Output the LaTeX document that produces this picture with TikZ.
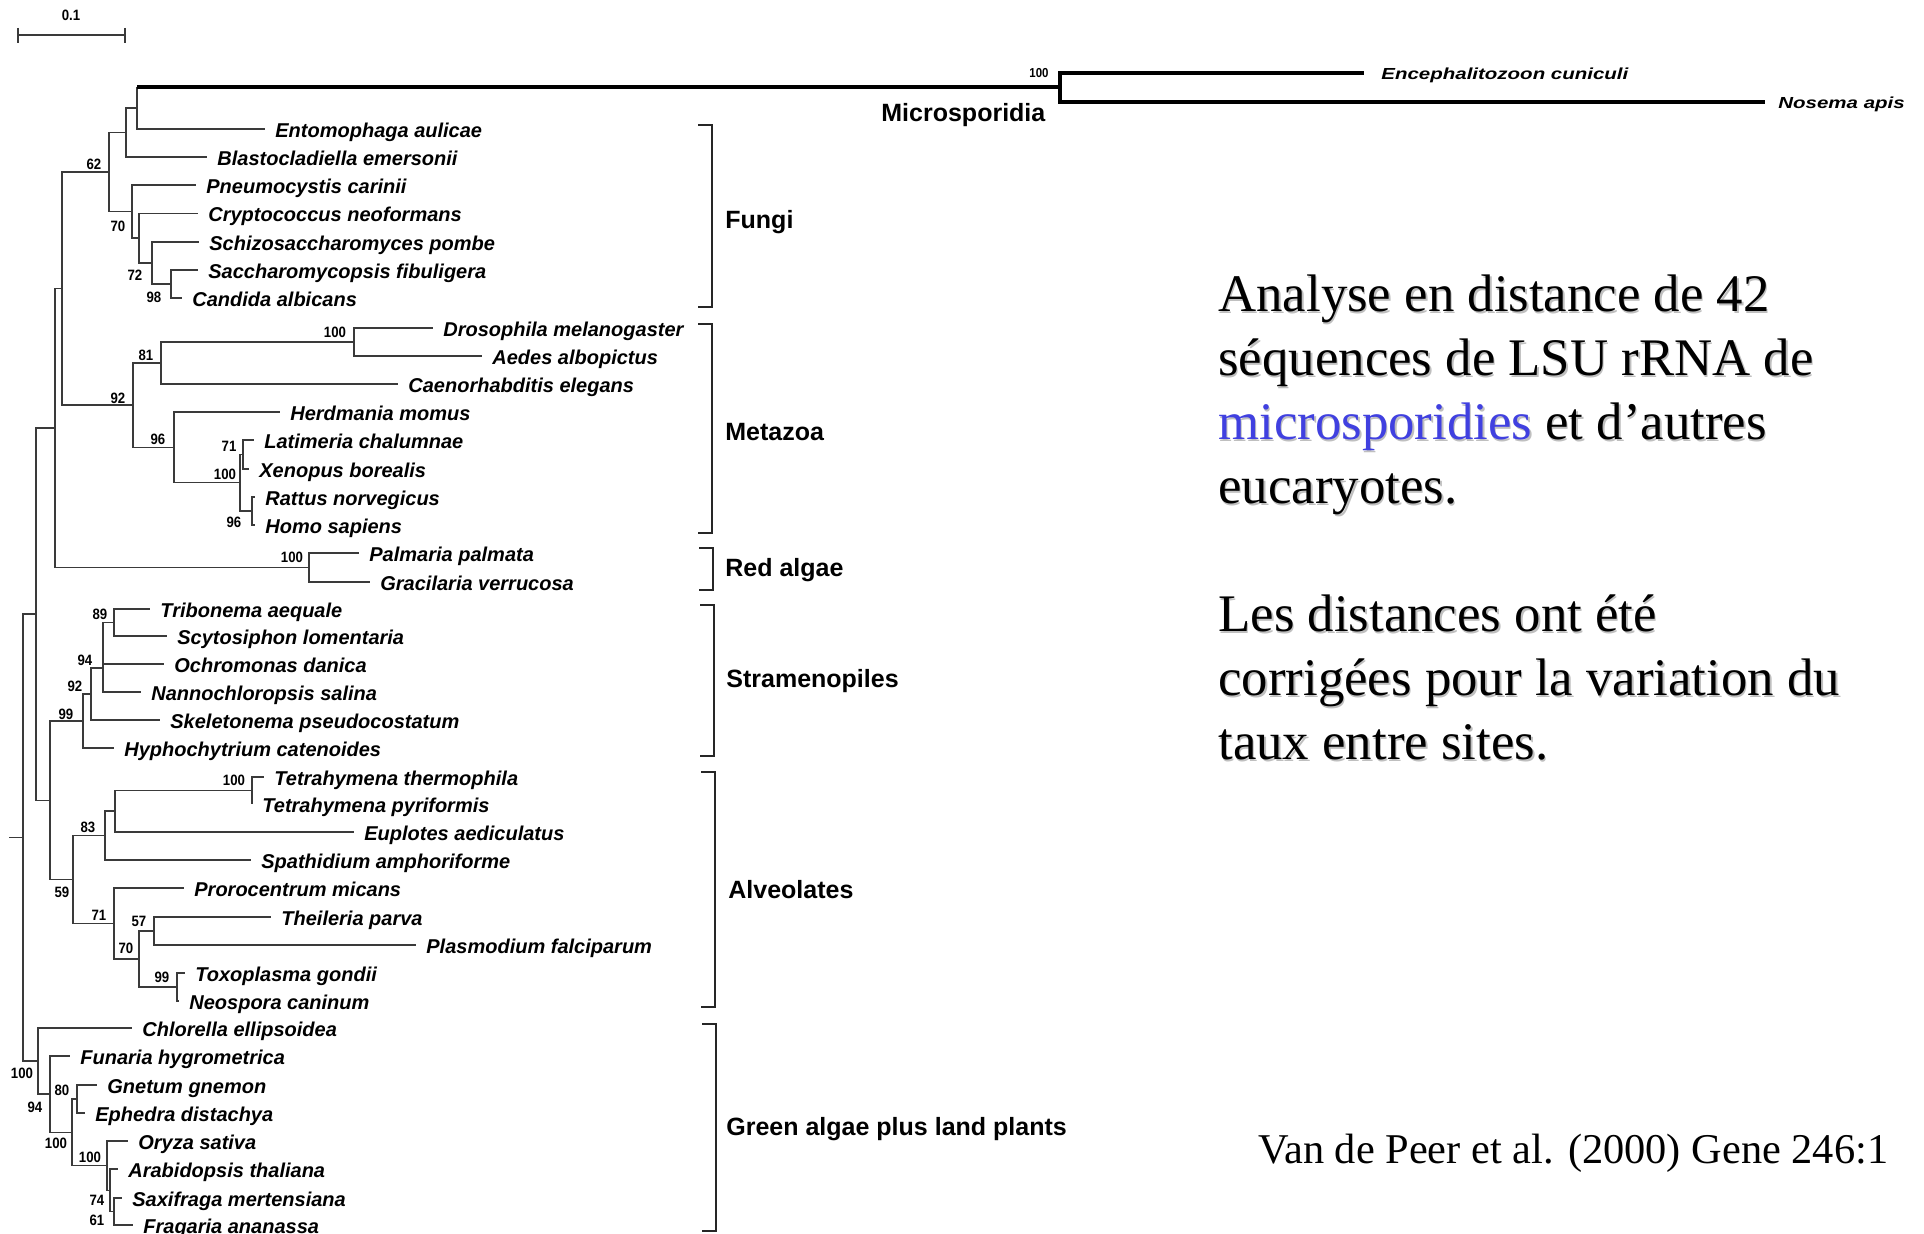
\documentclass[tikz,border=0pt]{standalone}
\usepackage{fontspec}
\setmainfont{Liberation Serif}
\newfontfamily\treefont{Liberation Sans}
\newfontfamily\bootfont[FakeStretch=0.88]{Liberation Sans}
\newfontfamily\microfont[FakeStretch=1.28]{Liberation Sans}
\definecolor{branch}{HTML}{3A3A3A}
\definecolor{microblue}{RGB}{64,64,224}
\colorlet{accent}{microblue}
% one line of slide text with a soft drop shadow
\newcommand\slideline[4]{%
  \node[para, text=black!25] (#1s) at (#2+1.5,#3+1.5) {\colorlet{accent}{black!25}#4};
  \node[para] (#1) at (#2,#3) {#4};}
\begin{document}
\begin{tikzpicture}[x=0.5pt, y=-0.5pt,
  br/.style={draw=branch, line width=0.75pt},
  thickbr/.style={draw=black, line width=2pt},
  leaf/.style={anchor=west, inner xsep=5pt, inner ysep=0pt,
    text height=8.5pt, text depth=0pt,
    font=\treefont\bfseries\itshape\fontsize{10}{12}\selectfont},
  microleaf/.style={anchor=west, inner ysep=0pt, text height=6.6pt, text depth=0pt,
    font=\microfont\bfseries\itshape\fontsize{8}{10}\selectfont},
  boot/.style={inner sep=0pt, font=\bootfont\bfseries\fontsize{7.5}{9}\selectfont},
  group/.style={anchor=base west, inner sep=0pt,
    font=\treefont\bfseries\fontsize{12.5}{15}\selectfont},
  bracket/.style={draw=black!85, line width=1.2pt},
  para/.style={anchor=base west, inner sep=0pt, font=\fontsize{26.4}{32}\selectfont},
  cite/.style={anchor=base west, inner sep=0pt, font=\fontsize{21.2}{25}\selectfont}]

\fill[white] (0,0) rectangle (1924,1234);
\useasboundingbox (0,0) rectangle (1924,1234);

% ---------- scale bar ----------
\draw[br] (18,35) -- (125,35);
\draw[br] (18,28) -- (18,43);
\draw[br] (125,28) -- (125,43);
\node[boot] (scalelab) at (71,15) {0.1};

% ---------- leaves ----------
\node[microleaf, inner xsep=8.5pt] (Lence) at (1364,73) {Encephalitozoon cuniculi};
\node[microleaf, inner xsep=6.5pt] (Lnose) at (1765,102) {Nosema apis};
\node[leaf] (Lento) at (265,129) {Entomophaga aulicae};
\node[leaf] (Lblas) at (207,157) {Blastocladiella emersonii};
\node[leaf] (Lpneu) at (196,185) {Pneumocystis carinii};
\node[leaf] (Lcryp) at (198,213.5) {Cryptococcus neoformans};
\node[leaf] (Lschi) at (199,242) {Schizosaccharomyces pombe};
\node[leaf] (Lsacc) at (198,270) {Saccharomycopsis fibuligera};
\node[leaf] (Lcand) at (182,298) {Candida albicans};
\node[leaf] (Ldros) at (433,328) {Drosophila melanogaster};
\node[leaf] (Laede) at (482,356) {Aedes albopictus};
\node[leaf] (Lcaen) at (398,384) {Caenorhabditis elegans};
\node[leaf] (Lherd) at (280,412) {Herdmania momus};
\node[leaf] (Llati) at (254,440) {Latimeria chalumnae};
\node[leaf] (Lxeno) at (249,469) {Xenopus borealis};
\node[leaf] (Lratt) at (255,497) {Rattus norvegicus};
\node[leaf] (Lhomo) at (255,525) {Homo sapiens};
\node[leaf] (Lpalm) at (359,553) {Palmaria palmata};
\node[leaf] (Lgrac) at (370,582) {Gracilaria verrucosa};
\node[leaf] (Ltrib) at (150,609) {Tribonema aequale};
\node[leaf] (Lscyt) at (167,636) {Scytosiphon lomentaria};
\node[leaf] (Locho) at (164,664) {Ochromonas danica};
\node[leaf] (Lnann) at (141,692) {Nannochloropsis salina};
\node[leaf] (Lskel) at (160,720) {Skeletonema pseudocostatum};
\node[leaf] (Lhyph) at (114,748) {Hyphochytrium catenoides};
\node[leaf] (Ltthe) at (264,777) {Tetrahymena thermophila};
\node[leaf] (Ltpyr) at (252,804) {Tetrahymena pyriformis};
\node[leaf] (Leupl) at (354,832) {Euplotes aediculatus};
\node[leaf] (Lspat) at (251,860) {Spathidium amphoriforme};
\node[leaf] (Lpror) at (184,888) {Prorocentrum micans};
\node[leaf] (Lthei) at (271,917) {Theileria parva};
\node[leaf] (Lplas) at (416,945) {Plasmodium falciparum};
\node[leaf] (Ltoxo) at (185,973) {Toxoplasma gondii};
\node[leaf] (Lneos) at (179,1001) {Neospora caninum};
\node[leaf] (Lchlo) at (132,1028) {Chlorella ellipsoidea};
\node[leaf] (Lfuna) at (70,1056) {Funaria hygrometrica};
\node[leaf] (Lgnet) at (97,1085) {Gnetum gnemon};
\node[leaf] (Lephe) at (85,1113) {Ephedra distachya};
\node[leaf] (Loryz) at (128,1141) {Oryza sativa};
\node[leaf] (Larab) at (118,1169) {Arabidopsis thaliana};
\node[leaf] (Lsaxi) at (122,1198) {Saxifraga mertensiana};
\node[leaf] (Lfrag) at (133,1225) {Fragaria ananassa};

% ---------- internal nodes ----------
\coordinate (stub) at (9,837.6);
\coordinate (nRoot) at (23,837.6);
\coordinate (nA) at (36,614.2);
\coordinate (nFMR) at (55,428);
\coordinate (nFM) at (62,288.6);
\coordinate (n62) at (109,172.1);
\coordinate (nA2) at (126,132.6);
\coordinate (nA1) at (137,108.25);
\coordinate (nMic) at (1060,87.5);
\coordinate (n70) at (132,211.6);
\coordinate (nC) at (139,238.25);
\coordinate (n72) at (152,263);
\coordinate (n98) at (171,284);
\coordinate (n92) at (133,405.2);
\coordinate (n81) at (161,363);
\coordinate (n100d) at (354,342);
\coordinate (n96) at (174,447.4);
\coordinate (nV) at (240,482.75);
\coordinate (n71) at (243,454.5);
\coordinate (n96b) at (252,511);
\coordinate (nR) at (309,567.5);
\coordinate (n59) at (50,800.3);
\coordinate (n99s) at (83,721);
\coordinate (n92s) at (91,694);
\coordinate (n94) at (103,668);
\coordinate (n89) at (114,622.5);
\coordinate (n83) at (73,879.6);
\coordinate (nCil) at (105,835.6);
\coordinate (nCil1) at (115,811.25);
\coordinate (nT) at (252,790.5);
\coordinate (n71a) at (114,923.5);
\coordinate (n70a) at (139,959);
\coordinate (n57) at (154,931);
\coordinate (n99a) at (177,987);
\coordinate (nG) at (38,1061.1);
\coordinate (n94g) at (50,1094.2);
\coordinate (n100s) at (72,1132.3);
\coordinate (n80) at (77,1099);
\coordinate (n100g) at (107,1165.6);
\coordinate (n74) at (110,1190.25);
\coordinate (n61) at (114,1211.5);

% ---------- branches ----------
\draw[br] (stub) -- (nRoot);
\foreach \p/\c in {nRoot/nA, nRoot/nG, nA/nFMR, nA/n59, nFMR/nFM, nFMR/nR,
    nFM/n62, nFM/n92, n62/nA2, n62/n70, nA2/nA1, nA2/Lblas.west,
    nA1/Lento.west,
    n70/Lpneu.west, n70/nC, nC/Lcryp.west, nC/n72,
    n72/Lschi.west, n72/n98, n98/Lsacc.west, n98/Lcand.west,
    n92/n81, n92/n96, n81/n100d, n81/Lcaen.west,
    n100d/Ldros.west, n100d/Laede.west,
    n96/Lherd.west, n96/nV, nV/n71, nV/n96b,
    n71/Llati.west, n71/Lxeno.west, n96b/Lratt.west, n96b/Lhomo.west,
    nR/Lpalm.west, nR/Lgrac.west,
    n59/n99s, n59/n83, n99s/n92s, n99s/Lhyph.west,
    n92s/n94, n92s/Lskel.west, n94/n89, n94/Locho.west, n94/Lnann.west,
    n89/Ltrib.west, n89/Lscyt.west,
    n83/nCil, n83/n71a, nCil/nCil1, nCil/Lspat.west,
    nCil1/nT, nCil1/Leupl.west, nT/Ltthe.west, nT/Ltpyr.west,
    n71a/Lpror.west, n71a/n70a, n70a/n57, n70a/n99a,
    n57/Lthei.west, n57/Lplas.west, n99a/Ltoxo.west, n99a/Lneos.west,
    nG/Lchlo.west, nG/n94g, n94g/Lfuna.west, n94g/n100s,
    n100s/n80, n100s/n100g, n80/Lgnet.west, n80/Lephe.west,
    n100g/Loryz.west, n100g/n74, n74/Larab.west, n74/n61,
    n61/Lsaxi.west, n61/Lfrag.west}
  \draw[br] (\p) |- (\c);

% the long microsporidian branch
\draw[br] (nA1) -- (nA1 |- nMic);
\draw[thickbr] (nA1 |- nMic) -- (nMic);
\draw[thickbr] (nMic) |- (Lence.west);
\draw[thickbr] (nMic) |- (Lnose.west);

% ---------- bootstrap values ----------
\node[boot, font=\bootfont\bfseries\fontsize{6.5}{8}\selectfont] (b1) at (1039,73) {100};
\node[boot] (b2) at (94,164) {62};
\node[boot] (b3) at (118,226) {70};
\node[boot] (b4) at (135,275) {72};
\node[boot] (b5) at (154,297) {98};
\node[boot] (b6) at (335,332) {100};
\node[boot] (b7) at (146,355) {81};
\node[boot] (b8) at (118,398) {92};
\node[boot] (b9) at (158,439) {96};
\node[boot] (b10) at (229,446) {71};
\node[boot] (b11) at (225,474) {100};
\node[boot] (b12) at (234,522) {96};
\node[boot] (b13) at (292,557) {100};
\node[boot] (b14) at (100,614) {89};
\node[boot] (b15) at (85,660) {94};
\node[boot] (b16) at (75,686) {92};
\node[boot] (b17) at (66,714) {99};
\node[boot] (b18) at (234,780) {100};
\node[boot] (b19) at (88,827) {83};
\node[boot] (b20) at (62,892) {59};
\node[boot] (b21) at (99,915) {71};
\node[boot] (b22) at (139,921) {57};
\node[boot] (b23) at (126,948) {70};
\node[boot] (b24) at (162,977) {99};
\node[boot] (b25) at (22,1073) {100};
\node[boot] (b26) at (62,1090) {80};
\node[boot] (b27) at (35,1107) {94};
\node[boot] (b28) at (56,1143) {100};
\node[boot] (b29) at (90,1157) {100};
\node[boot] (b30) at (97,1200) {74};
\node[boot] (b31) at (97,1220) {61};

% ---------- group brackets and names ----------
\node[group] (gMic) at (881,122) {Microsporidia};
\draw[bracket] (698,125) -- (712,125) -- (712,307) -- (698,307);
\node[group] (gFun) at (725,229) {Fungi};
\draw[bracket] (698,324) -- (712,324) -- (712,533) -- (698,533);
\node[group] (gMet) at (725,441) {Metazoa};
\draw[bracket] (699,548) -- (713,548) -- (713,590) -- (699,590);
\node[group] (gRed) at (725,577) {Red algae};
\draw[bracket] (700,605) -- (714,605) -- (714,756) -- (700,756);
\node[group] (gStr) at (726,688) {Stramenopiles};
\draw[bracket] (701,772) -- (715,772) -- (715,1007) -- (701,1007);
\node[group] (gAlv) at (728,899) {Alveolates};
\draw[bracket] (702,1024) -- (716,1024) -- (716,1231) -- (702,1231);
\node[group] (gGre) at (726,1136) {Green algae plus land plants};

% ---------- slide text ----------
\slideline{t1}{1218}{312}{Analyse en distance de 42}
\slideline{t2}{1218}{376}{séquences de LSU rRNA de}
\slideline{t3}{1218}{440}{\textcolor{accent}{microsporidies} et d’autres}
\slideline{t4}{1218}{504}{eucaryotes.}
\slideline{t5}{1218}{632}{Les distances ont été}
\slideline{t6}{1218}{696}{corrigées pour la variation du}
\slideline{t7}{1218}{760}{taux entre sites.}
\node[cite] (ref) at (1258,1163) {Van de Peer et al. (2000) Gene 246:1};
\end{tikzpicture}
\end{document}
